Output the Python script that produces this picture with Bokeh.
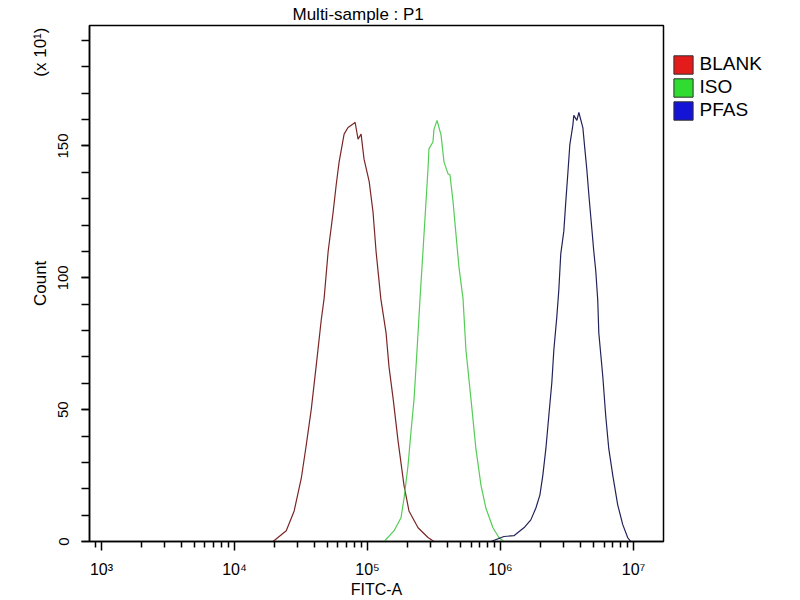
import math
from bokeh.plotting import figure
from bokeh.layouts import row
from bokeh.models import Range1d, FixedTicker, Legend, LegendItem, LinearAxis
from bokeh.embed import file_html
from bokeh.resources import INLINE

# BLANK histogram (FITC-A, count x10)
blank_x = [19500, 24500, 28100, 31800, 34600, 37800, 41100, 44900, 47200, 50600,
           55200, 58100, 61200, 66700, 71400, 79300, 80700, 84900, 89500, 94200,
           103000, 110000, 116000, 126000, 138000, 145000, 156000, 170000, 188000,
           205000, 240000, 285000, 316000]
blank_count = [0, 4.1, 11.6, 24, 36.4, 50.2, 66.4, 84, 92.2, 110,
               125, 135, 144, 154.5, 157, 158.6, 159, 152.6, 154.5, 145,
               136.5, 125, 110, 92, 79, 66.4, 54, 37.9, 21.4,
               11.6, 5.2, 1.5, 0]

# ISO histogram
iso_x = [133400, 158500, 178600, 188400, 201800, 212300, 223900, 231700, 239900,
         248300, 261200, 275400, 285100, 289700, 310500, 316200, 333400, 357300,
         375800, 402700, 416900, 439500, 462400, 487500, 522400, 549500, 599800,
         653100, 712800, 776200, 877000, 972800, 1062000]
iso_count = [0, 4.1, 9, 16.5, 28.9, 41.6, 54, 66.4, 79.1,
             92.2, 110, 129, 141.4, 148.9, 151.5, 156.4, 159.7, 154.1,
             144, 139.5, 139.1, 129, 116.6, 103.9, 92.2, 72.7, 54,
             35.2, 21.4, 12.7, 5.2, 1.5, 0]

# PFAS histogram
pfas_x = [847000, 1062000, 1262000, 1352000, 1500000, 1690000, 1845000, 1977000,
          2080000, 2193000, 2307000, 2432000, 2518000, 2649000, 2742000, 2838000,
          2992000, 3097000, 3206000, 3319000, 3499000, 3556000, 3750000, 3882000,
          4159000, 4305000, 4457000, 4613000, 4853000, 5023000, 5200000, 5383000,
          5483000, 5875000, 6180000, 6516000, 6982000, 7603000, 8299000, 9036000,
          9528000]
pfas_count = [0, 1.9, 2.2, 3.4, 5.2, 8.2, 12.7, 17.6,
              25.1, 35.2, 47.6, 60.4, 72.7, 85.1, 95.2, 109.1,
              117.7, 129, 139.5, 150.4, 157.9, 161.6, 159.7, 162.7,
              157, 148.9, 141, 131.6, 118.9, 110.2, 102.7, 91.5,
              79.1, 62.6, 47.6, 35.2, 25.1, 13.9, 6.4, 1.5,
              0]

series_names = ["BLANK", "ISO", "PFAS"]
line_colors = ["#7a2626", "#55cc55", "#22225a"]
box_colors = ["#e31b1b", "#2fdc2f", "#1414d6"]

x_ticks = [1e3, 1e4, 1e5, 1e6, 1e7]
x_tick_labels = ["10³", "10⁴", "10⁵", "10⁶", "10⁷"]
x_minor = [900] + [m * 10 ** k for k in range(3, 7) for m in range(2, 10)]
y_ticks = [0, 50, 100, 150]
y_minor = list(range(0, 200, 10))
# outer left column: axis title and scale note, at their heights on the count scale
y_note_pos = [97.9, 185.6]
y_note_text = ["Count", "(x 10¹)"]

FONT = "Liberation Sans"

p = figure(width=665, height=600, x_axis_type="log",
           x_range=Range1d(813, 1.68e7), y_range=Range1d(0, 195.7),
           output_backend="svg", toolbar_location=None, tools="",
           min_border_left=89, min_border_right=2,
           min_border_top=22, min_border_bottom=56)
p.title.text = "Multi-sample : P1"
p.title.align = "left"
p.title.offset = 203
p.title.standoff = 4
p.title.text_font = FONT
p.title.text_font_size = "17px"
p.title.text_font_style = "normal"
p.title.text_color = "black"

p.outline_line_color = "black"
p.outline_line_width = 1.5
p.outline_line_alpha = 1
p.xgrid.visible = False
p.ygrid.visible = False
p.background_fill_color = "white"
p.border_fill_color = "white"

xa = p.xaxis[0]
xa.ticker = FixedTicker(ticks=x_ticks, minor_ticks=x_minor)
xa.major_label_overrides = dict(zip(x_ticks, x_tick_labels))
xa.major_tick_in = 0
xa.major_tick_out = 9
xa.minor_tick_in = 0
xa.minor_tick_out = 6
xa.major_label_standoff = 10
xa.major_label_text_font_size = "16px"
xa.axis_label = "FITC-A"
xa.axis_label_standoff = 0

ya = p.yaxis[0]
ya.ticker = FixedTicker(ticks=y_ticks, minor_ticks=y_minor)
ya.major_tick_in = 0
ya.major_tick_out = 8
ya.minor_tick_in = 0
ya.minor_tick_out = 8
ya.major_label_orientation = "vertical"
ya.major_label_standoff = 13
ya.major_label_text_font_size = "15px"

for ax in (xa, ya):
    ax.axis_line_color = "black"
    ax.axis_line_width = 1.5
    ax.major_tick_line_color = "black"
    ax.major_tick_line_width = 1.5
    ax.minor_tick_line_color = "black"
    ax.minor_tick_line_width = 1.5
    ax.major_label_text_font = FONT
    ax.major_label_text_color = "black"
    ax.axis_label_text_font = FONT
    ax.axis_label_text_font_size = "16px"
    ax.axis_label_text_font_style = "normal"
    ax.axis_label_text_color = "black"

note_axis = LinearAxis(ticker=FixedTicker(ticks=y_note_pos, minor_ticks=[]),
                       major_label_overrides=dict(zip(y_note_pos, y_note_text)),
                       axis_line_color=None, major_tick_line_color=None,
                       minor_tick_line_color=None, major_tick_in=0, major_tick_out=0,
                       minor_tick_in=0, minor_tick_out=0,
                       major_label_orientation="vertical", major_label_standoff=5,
                       major_label_text_font=FONT, major_label_text_font_size="17px",
                       major_label_text_color="black")
p.add_layout(note_axis, "left")

for xs, ys, c in zip([blank_x, iso_x, pfas_x], [blank_count, iso_count, pfas_count], line_colors):
    p.line(xs, ys, line_color=c, line_width=1.2)

# legend panel to the right of the plot frame (its frame is aligned with p's frame)
q = figure(width=135, height=600, x_range=Range1d(0, 1), y_range=Range1d(0, 1),
           x_axis_location=None, y_axis_location=None,
           output_backend="svg", toolbar_location=None, tools="", min_border=0)
q.outline_line_color = None
q.xgrid.visible = False
q.ygrid.visible = False

# legend swatches: zero-size quads outside the visible range, used only for the legend
items = []
for name, c in zip(series_names, box_colors):
    r = q.quad(left=[2], right=[2], top=[2], bottom=[2],
               fill_color=c, line_color="#303030", line_width=1)
    items.append(LegendItem(label=name, renderers=[r]))

legend = Legend(items=items, location=(5.6, 419.3), padding=5, margin=0, spacing=0,
                glyph_width=24, glyph_height=23, label_height=23, label_standoff=5,
                border_line_color=None, background_fill_alpha=0,
                label_text_font=FONT, label_text_font_size="19px",
                label_text_color="black")
q.add_layout(legend)

layout = row(p, q)
open("out.html", "w").write(file_html(layout, INLINE))
